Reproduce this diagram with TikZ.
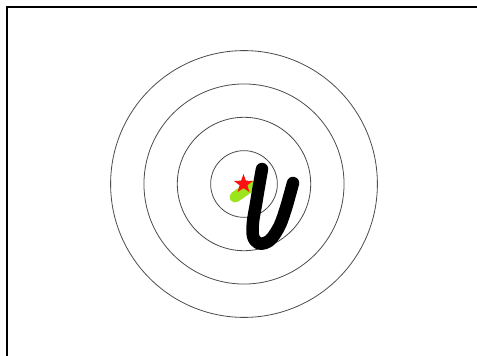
\documentclass[tikz,border=0pt]{standalone}
\definecolor{ink}{HTML}{000000}
\definecolor{ring}{HTML}{4A4A4A}
\definecolor{hit}{HTML}{FF1010}
\definecolor{trail}{HTML}{9CE41C}

\begin{document}
\begin{tikzpicture}[x=1pt,y=-1pt,
  frame/.style={draw=ink,line width=2.2pt},
  ring/.style={draw=ring,line width=.8pt},
  stroke/.style={line cap=round,line join=round},
  pen/.style={stroke,draw=ink,line width=12.5pt},
  smear/.style={stroke,draw=trail,line width=11pt}]

% Page is 477 x 356, measured from the top left corner.
\useasboundingbox (0,0) rectangle (477,356);
\fill[white] (0,0) rectangle (477,356);

% -------------------------------------------------------------------------
% Window edge: only the top and left sides show.
% -------------------------------------------------------------------------
\draw[frame] (7,356) -- (7,7) -- (477,7);

% -------------------------------------------------------------------------
% Target rings, 33.3 apart.
% -------------------------------------------------------------------------
\coordinate (c) at (244,184);
\foreach \r in {1,...,4}
  \draw[ring] (c) circle[radius=\r*33.35];

% -------------------------------------------------------------------------
% Marks on the target.
% -------------------------------------------------------------------------
\draw[smear] (235,197) -- (251,186);
% Five-pointed star, tips at radius 10, notches at 4.1.
\coordinate (aim) at (243.5,184);
\fill[hit,shift={(aim)}] (-90:10)
  \foreach \a [evaluate=\a as \rr using {isodd(\a) ? 4.1 : 10}] in {1,...,9}
    { -- ({-90+36*\a}:\rr) } -- cycle;
\draw[pen] plot[smooth,tension=.6] coordinates {
  (262,169) (259,186) (256,204) (253,222) (253,236) (258,243)
  (265,243) (272,238) (280,225) (286,208) (290,194) (293,183)};
\end{tikzpicture}
\end{document}
